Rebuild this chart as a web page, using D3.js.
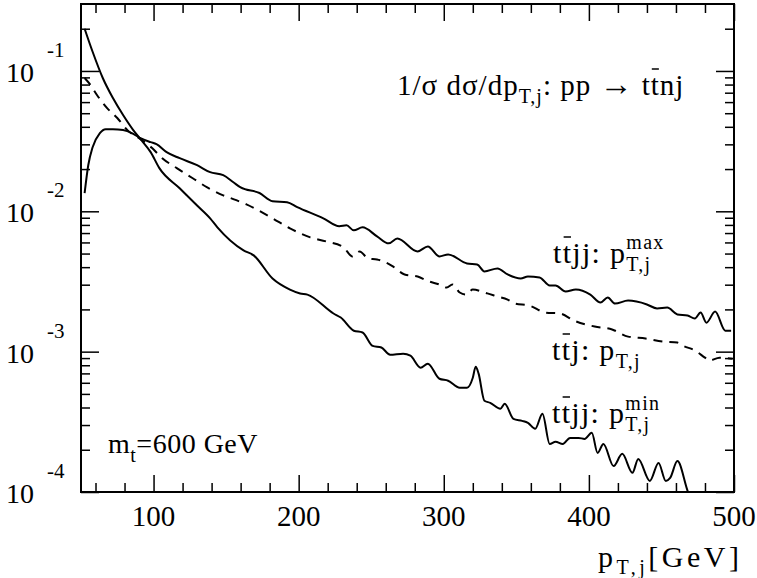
<!DOCTYPE html>
<html>
<head>
<meta charset="utf-8">
<script src="https://cdn.jsdelivr.net/npm/d3@7"></script>
<style>
body { margin: 0; background: #fff; }
svg, text { font-family: "Liberation Serif", "Times New Roman", "DejaVu Serif", serif; fill: #000; }
</style>
</head>
<body>
<div id="chart-area"></div>
<script>
// ---- data ----
// ttj : pT,j  (dashed)
var ttjX = [52.5, 56, 61, 68, 75, 82, 91, 99, 106, 116, 127, 137, 148, 157, 164, 182, 194, 208, 219, 231, 237, 242, 248, 254, 264, 273, 282, 290, 297, 302, 306, 311, 315, 320, 330, 337, 344, 349, 359, 370, 380, 390, 404, 416, 427, 439, 451, 461, 465, 473, 480, 483, 490, 499];
var ttjY = [0.0891, 0.0808, 0.0674, 0.0544, 0.0462, 0.0379, 0.0327, 0.0282, 0.0239, 0.0203, 0.0172, 0.0148, 0.0130, 0.0120, 0.0112, 0.00891, 0.00756, 0.00652, 0.00610, 0.00553, 0.00477, 0.00518, 0.00461, 0.00454, 0.00411, 0.00355, 0.00343, 0.00316, 0.00301, 0.00286, 0.00301, 0.00264, 0.00255, 0.00277, 0.00260, 0.00247, 0.00235, 0.00220, 0.00213, 0.00190, 0.00187, 0.00166, 0.00151, 0.00144, 0.00128, 0.00124, 0.00118, 0.00116, 0.00110, 0.00102, 0.000906, 0.000863, 0.000906, 0.000891];

// ttjj : pT,j max  (solid)
var maxX = [52.5, 55, 58, 63, 67, 72, 79, 85, 91, 98, 102, 109, 118, 130, 139, 148, 155, 160, 173, 182, 192, 199, 217, 228, 233, 238, 244, 254, 262, 268, 282, 289, 297, 303, 316, 323, 328, 337, 344, 353, 358, 366, 373, 377, 384, 391, 401, 408, 413, 418, 427, 440, 447, 454, 461, 468, 473, 477, 481, 487, 494, 498];
var maxY = [0.0135, 0.0213, 0.0286, 0.0361, 0.0385, 0.0385, 0.0379, 0.0361, 0.0332, 0.0311, 0.0301, 0.0264, 0.0239, 0.0213, 0.0190, 0.0181, 0.0161, 0.0148, 0.0135, 0.0118, 0.0116, 0.0107, 0.00891, 0.00782, 0.00794, 0.00732, 0.00769, 0.00663, 0.00591, 0.00641, 0.00518, 0.00562, 0.00477, 0.00493, 0.00425, 0.00418, 0.00373, 0.00392, 0.00355, 0.00332, 0.00343, 0.00338, 0.00296, 0.00296, 0.00268, 0.00277, 0.00255, 0.00224, 0.00243, 0.00220, 0.00231, 0.00217, 0.00203, 0.00206, 0.00184, 0.00181, 0.00172, 0.00190, 0.00161, 0.00193, 0.00141, 0.00141];

// ttjj : pT,j min  (solid, steep)
var minX = [52.5, 58, 65, 72, 79, 86, 91, 98, 104, 118, 130, 139, 144, 162, 169, 182, 194, 201, 206, 224, 229, 238, 244, 251, 257, 263, 272, 277, 284, 289, 297, 303, 311, 316, 320, 322, 324, 328, 332, 339, 342, 348, 354, 358, 363, 368, 373, 377, 382, 387, 393, 397, 402, 406, 410, 417, 423, 430, 434, 442, 448, 453, 456, 461, 468, 472];
var minY = [0.200, 0.137, 0.0891, 0.0641, 0.0485, 0.0379, 0.0327, 0.0264, 0.0203, 0.0146, 0.0110, 0.00891, 0.00769, 0.00527, 0.00485, 0.00332, 0.00277, 0.00260, 0.00255, 0.00187, 0.00175, 0.00141, 0.00137, 0.00110, 0.00107, 0.000952, 0.000968, 0.000936, 0.000769, 0.000821, 0.000641, 0.000621, 0.000553, 0.000553, 0.000652, 0.000781, 0.000697, 0.000447, 0.000432, 0.000392, 0.000425, 0.000332, 0.000321, 0.000311, 0.000282, 0.000361, 0.000220, 0.000228, 0.000220, 0.000243, 0.000243, 0.000239, 0.000264, 0.000190, 0.000220, 0.000153, 0.000187, 0.000137, 0.000172, 0.000120, 0.000161, 0.000120, 0.000126, 0.000166, 0.000102, 0.00008];

// tick labels
var xTickLabels = [100, 200, 300, 400, 500];
var yDecades = [-1, -2, -3, -4];

// ---- layout ----
var W = 757, H = 578;
var margin = {left: 81, right: 23, top: 4, bottom: 86};
var pw = W - margin.left - margin.right,
    ph = H - margin.top - margin.bottom;

var svg = d3.select("#chart-area")
    .append("svg")
    .attr("width", W)
    .attr("height", H)
    .attr("font-family", "Liberation Serif, Times New Roman, serif");

var g = svg.append("g")
    .attr("transform", "translate(" + margin.left + "," + margin.top + ")");

var x = d3.scaleLinear().domain([50, 500]).range([0, pw]);
var y = d3.scaleLog().domain([1e-4, 0.3]).range([ph, 0]);

// tick positions
var xMinor = d3.range(60, 500, 20).filter(function (v) { return v % 100 != 0; });
var yMajor = yDecades.map(function (e) { return Math.pow(10, e); });
var yMinor = [];
yDecades.forEach(function (e) {
    for (var k = 2; k <= 9; k++) {
        var v = k * Math.pow(10, e);
        if (v <= 0.3) yMinor.push(v);
    }
});

function styleAxis(sel) {
    sel.select(".domain").remove();
    sel.selectAll("line").attr("stroke", "#000").attr("stroke-width", 1.5);
}

// ticks on all four sides, pointing inward
g.append("g").attr("transform", "translate(0," + ph + ")")
    .call(d3.axisBottom(x).tickValues(xTickLabels).tickSize(-17).tickFormat("")).call(styleAxis);
g.append("g").attr("transform", "translate(0," + ph + ")")
    .call(d3.axisBottom(x).tickValues(xMinor).tickSize(-9).tickFormat("")).call(styleAxis);
g.append("g")
    .call(d3.axisTop(x).tickValues(xTickLabels).tickSize(-17).tickFormat("")).call(styleAxis);
g.append("g")
    .call(d3.axisTop(x).tickValues(xMinor).tickSize(-9).tickFormat("")).call(styleAxis);
g.append("g")
    .call(d3.axisLeft(y).tickValues(yMajor).tickSize(-18).tickFormat("")).call(styleAxis);
g.append("g")
    .call(d3.axisLeft(y).tickValues(yMinor).tickSize(-9).tickFormat("")).call(styleAxis);
g.append("g").attr("transform", "translate(" + pw + ",0)")
    .call(d3.axisRight(y).tickValues(yMajor).tickSize(-18).tickFormat("")).call(styleAxis);
g.append("g").attr("transform", "translate(" + pw + ",0)")
    .call(d3.axisRight(y).tickValues(yMinor).tickSize(-9).tickFormat("")).call(styleAxis);

// frame
g.append("rect")
    .attr("width", pw)
    .attr("height", ph)
    .attr("fill", "none")
    .attr("stroke", "#000")
    .attr("stroke-width", 2);

// x tick labels
g.selectAll(".xlab")
    .data(xTickLabels)
    .enter()
    .append("text")
    .attr("class", "xlab")
    .attr("x", function (d) { return x(d); })
    .attr("y", ph + 34)
    .attr("text-anchor", "middle")
    .style("font-size", "29px")
    .text(function (d) { return d; });

// y tick labels 10^e
yDecades.forEach(function (e) {
    var py = y(Math.pow(10, e));
    g.append("text")
        .attr("x", -75)
        .attr("y", py + 11)
        .style("font-size", "28px")
        .text("10");
    g.append("text")
        .attr("x", -34)
        .attr("y", py - 14)
        .style("font-size", "21px")
        .text(e);
});

// curves
g.append("clipPath").attr("id", "clip")
    .append("rect").attr("width", pw).attr("height", ph);

var line = d3.line()
    .x(function (d) { return x(d[0]); })
    .y(function (d) { return y(d[1]); })
    .curve(d3.curveMonotoneX);

function pairs(xs, ys) { return xs.map(function (v, i) { return [v, ys[i]]; }); }

var curves = g.append("g").attr("clip-path", "url(#clip)");
curves.append("path")
    .datum(pairs(ttjX, ttjY))
    .attr("d", line)
    .attr("fill", "none")
    .attr("stroke", "#000")
    .attr("stroke-width", 2)
    .attr("stroke-dasharray", "9,7");
curves.append("path")
    .datum(pairs(maxX, maxY))
    .attr("d", line)
    .attr("fill", "none")
    .attr("stroke", "#000")
    .attr("stroke-width", 2);
curves.append("path")
    .datum(pairs(minX, minY))
    .attr("d", line)
    .attr("fill", "none")
    .attr("stroke", "#000")
    .attr("stroke-width", 2);

// text with sub/superscripts; shift > 0 is down, stack puts a part over the previous one
function rich(px, py, size, ls, segs, barAt) {
    var t = svg.append("text").attr("x", px).attr("y", py)
        .style("letter-spacing", ls + "px");
    var cur = 0, lastLen = 0, full = "";
    segs.forEach(function (sg) {
        var sh = sg.shift || 0;
        var ts = t.append("tspan")
            .attr("dy", sh - cur)
            .style("font-size", (sg.size || size) + "px")
            .text(sg.s);
        if (sg.stack) ts.attr("dx", -lastLen);
        cur = sh;
        lastLen = ts.node().getComputedTextLength();
        full += sg.s;
    });
    // bar over the anti-top
    if (barAt) {
        var idx = full.indexOf(barAt) + 1;
        var box = t.node().getExtentOfChar(idx);
        svg.append("line")
            .attr("x1", box.x + 1).attr("x2", box.x + box.width - ls)
            .attr("y1", py - 26).attr("y2", py - 26)
            .attr("stroke", "#000").attr("stroke-width", 1.5);
    }
    return t;
}

rich(397, 95, 29, 1, [
    {s: "1/\u03c3 d\u03c3/dp"},
    {s: "T,j", shift: 8, size: 20},
    {s: ": pp "},
    {s: "\u2192", size: 33},
    {s: " ttnj"}
], "ttnj");

rich(553, 263, 30, 1.3, [
    {s: "ttjj: p"},
    {s: "T,j", shift: 8, size: 20},
    {s: "max", shift: -14, size: 20, stack: true}
], "ttjj");

rich(552, 360, 30, 1.3, [
    {s: "ttj: p"},
    {s: "T,j", shift: 8, size: 20}
], "ttj");

rich(552, 423, 30, 1.3, [
    {s: "ttjj: p"},
    {s: "T,j", shift: 8, size: 20},
    {s: "min", shift: -13, size: 20, stack: true}
], "ttjj");

rich(108, 453, 28, 0.5, [
    {s: "m"},
    {s: "t", shift: 9, size: 20},
    {s: "=600 GeV"}
]);

rich(598, 567, 30, 3.5, [
    {s: "p"},
    {s: "T,j", shift: 7, size: 20},
    {s: "[GeV]"}
]);
</script>
</body>
</html>
